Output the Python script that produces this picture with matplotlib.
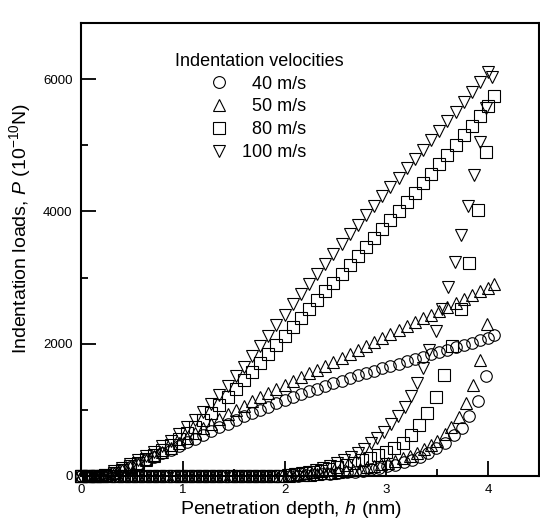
import matplotlib
matplotlib.use('Agg')
import matplotlib.pyplot as plt
from matplotlib.ticker import MultipleLocator, FixedLocator
from matplotlib.lines import Line2D

# ---------------- data ----------------
velocity_labels = ['\u200740 m/s', '\u200750 m/s', '\u200780 m/s', '100 m/s']
markers = ['o', '^', 's', 'v']

# loading branch depths (nm), shared by all velocities
load_depth = [0.00, 0.08, 0.16, 0.24, 0.32, 0.40, 0.48, 0.56, 0.64, 0.72,
              0.80, 0.88, 0.96, 1.04, 1.12, 1.20, 1.28, 1.36, 1.44, 1.52,
              1.60, 1.68, 1.76, 1.84, 1.92, 2.00, 2.08, 2.16, 2.24, 2.32,
              2.40, 2.48, 2.56, 2.64, 2.72, 2.80, 2.88, 2.96, 3.04, 3.12,
              3.20, 3.28, 3.36, 3.44, 3.52, 3.60, 3.68, 3.76, 3.84, 3.92, 4.00]

load_40 = [0, 0, 5, 20, 45, 85, 130, 180, 235, 290, 345, 400, 455, 510, 565,
           625, 680, 735, 790, 845, 900, 950, 1000, 1050, 1100, 1145, 1190,
           1235, 1280, 1320, 1360, 1400, 1440, 1480, 1520, 1555, 1595, 1630,
           1665, 1700, 1735, 1770, 1805, 1840, 1875, 1910, 1945, 1980, 2015,
           2050, 2085]
load_50 = [0, 0, 5, 20, 45, 85, 130, 180, 235, 295, 360, 430, 500, 570, 645,
           720, 790, 860, 930, 1000, 1065, 1130, 1190, 1250, 1310, 1370, 1430,
           1490, 1550, 1610, 1670, 1730, 1790, 1850, 1910, 1970, 2030, 2090,
           2150, 2210, 2270, 2325, 2385, 2440, 2500, 2555, 2615, 2670, 2730,
           2790, 2850]
load_80 = [0, 0, 5, 20, 50, 95, 145, 200, 260, 325, 395, 470, 555, 645, 745,
           850, 960, 1075, 1195, 1320, 1445, 1575, 1710, 1845, 1980, 2115, 2250,
           2385, 2520, 2655, 2790, 2925, 3060, 3195, 3330, 3465, 3600, 3735,
           3870, 4005, 4145, 4285, 4425, 4570, 4715, 4860, 5005, 5150, 5300,
           5450, 5600]
load_100 = [0, 0, 5, 20, 70, 120, 175, 235, 300, 370, 450, 535, 630, 735, 845,
            965, 1090, 1220, 1360, 1505, 1655, 1810, 1965, 2120, 2280, 2440,
            2600, 2755, 2910, 3060, 3210, 3360, 3510, 3655, 3800, 3945, 4090,
            4230, 4370, 4510, 4650, 4790, 4930, 5075, 5220, 5365, 5510, 5660,
            5810, 5960, 6110]

# unloading branches (from peak back to zero load)
unload_depth_40 = [4.06, 3.98, 3.90, 3.81, 3.74, 3.66, 3.58, 3.49, 3.41, 3.33,
                   3.25, 3.17, 3.09, 3.01, 2.93, 2.85, 2.77, 2.69, 2.61, 2.53,
                   2.45, 2.37, 2.29, 2.21, 2.13, 2.05, 1.97]
unload_40 = [2130, 1510, 1140, 905, 730, 620, 505, 420, 350, 290, 245, 205,
             170, 145, 120, 100, 82, 67, 54, 43, 33, 25, 18, 12, 7, 3, 0]

unload_depth_50 = [4.06, 3.99, 3.92, 3.85, 3.78, 3.71, 3.64, 3.58, 3.50, 3.44,
                   3.37, 3.30, 3.23, 3.16, 3.09, 3.02, 2.95, 2.88, 2.81, 2.74,
                   2.67, 2.60, 2.53, 2.46, 2.39, 2.32, 2.25, 2.18, 2.11, 2.04,
                   1.97]
unload_50 = [2910, 2300, 1755, 1375, 1100, 895, 745, 630, 535, 470, 405, 350,
             305, 265, 230, 200, 175, 150, 130, 110, 95, 80, 65, 52, 40, 30,
             22, 15, 8, 3, 0]

unload_depth_80 = [4.06, 3.98, 3.90, 3.81, 3.73, 3.65, 3.57, 3.49, 3.40, 3.32,
                   3.24, 3.16, 3.08, 3.00, 2.92, 2.84, 2.76, 2.68, 2.60, 2.52,
                   2.44, 2.36, 2.28, 2.20, 2.12, 2.04, 1.96]
unload_80 = [5745, 4900, 4020, 3215, 2520, 1965, 1525, 1200, 955, 770, 620,
             505, 420, 365, 320, 275, 235, 200, 165, 135, 105, 80, 58, 40, 25,
             12, 5]

unload_depth_100 = [4.04, 3.98, 3.92, 3.86, 3.80, 3.73, 3.67, 3.61, 3.55, 3.49,
                    3.42, 3.36, 3.30, 3.24, 3.18, 3.11, 3.05, 2.98, 2.91, 2.85,
                    2.78, 2.72, 2.65, 2.58, 2.52, 2.45, 2.38, 2.31, 2.24, 2.17,
                    2.10, 2.03, 1.96]
unload_100 = [6040, 5570, 5050, 4550, 4080, 3640, 3240, 2860, 2530, 2200, 1900,
              1640, 1400, 1210, 1050, 905, 785, 670, 570, 495, 405, 345, 285,
              235, 190, 150, 115, 85, 60, 40, 25, 12, 5]

# tip retraction at zero load (shared)
retract_depth = [1.89, 1.82, 1.75, 1.68, 1.61, 1.54, 1.47, 1.40, 1.33, 1.26,
                 1.19, 1.12, 1.05, 0.98, 0.91, 0.84, 0.77, 0.70, 0.63, 0.56,
                 0.49, 0.42, 0.35, 0.28, 0.21, 0.14, 0.07, 0.00]
retract_load = [0, 0, 0, 0, 0, 0, 0, 0, 0, 0, 0, 0, 0, 0, 0, 0, 0, 0, 0, 0,
                0, 0, 0, 0, 0, 0, 0, 0]

x_ticks = [0, 1, 2, 3, 4]
y_ticks = [0, 2000, 4000, 6000]

# ---------------- style ----------------
plt.rcParams['font.family'] = ['Liberation Sans', 'DejaVu Sans']
plt.rcParams['mathtext.fontset'] = 'custom'
plt.rcParams['mathtext.rm'] = 'Liberation Sans'
plt.rcParams['mathtext.it'] = 'Liberation Sans:italic'

fig = plt.figure(figsize=(5.4, 5.2), dpi=100)
ax = fig.add_axes([81 / 540, 1 - 476 / 520, 458 / 540, 453 / 520])

series = [
    (load_40, unload_depth_40, unload_40),
    (load_50, unload_depth_50, unload_50),
    (load_80, unload_depth_80, unload_80),
    (load_100, unload_depth_100, unload_100),
]

for (ld, ud, ul), m in zip(series, markers):
    h = load_depth + ud + retract_depth
    p = ld + ul + retract_load
    ax.plot(h, p, linestyle='none', marker=m, ms=8.3, mfc='none',
            mec='black', mew=0.8, clip_on=False)

ax.set_xlim(0, 4.5)
ax.set_ylim(0, 6850)
ax.xaxis.set_major_locator(FixedLocator(x_ticks))
ax.yaxis.set_major_locator(FixedLocator(y_ticks))
ax.xaxis.set_minor_locator(MultipleLocator(0.5))
ax.yaxis.set_minor_locator(MultipleLocator(1000))
ax.tick_params(which='both', direction='in', top=False, right=False,
               width=1.3, labelsize=9.5)
ax.tick_params(which='major', length=11, pad=6)
ax.tick_params(which='minor', length=5)
for s in ax.spines.values():
    s.set_linewidth(1.5)

ax.set_xlabel('Penetration depth, $h$ (nm)', fontsize=14)
ax.set_ylabel('Indentation loads, $P$ (10$^{-10}$N)', fontsize=14)
ax.xaxis.set_label_coords(0.4585, -0.05)
ax.yaxis.set_label_coords(-0.105, 0.547)

handles = [Line2D([], [], linestyle='none', marker=m, ms=8.5, mfc='none',
                  mec='black', mew=0.8) for m in markers]
leg = ax.legend(handles, velocity_labels, title='Indentation velocities',
                loc='upper left', bbox_to_anchor=(0.205, 0.934),
                frameon=False, fontsize=13, title_fontsize=13,
                handlelength=0.8, handletextpad=0.9, labelspacing=0.32,
                borderpad=0, borderaxespad=0)

fig.savefig('out.png', dpi=100)
